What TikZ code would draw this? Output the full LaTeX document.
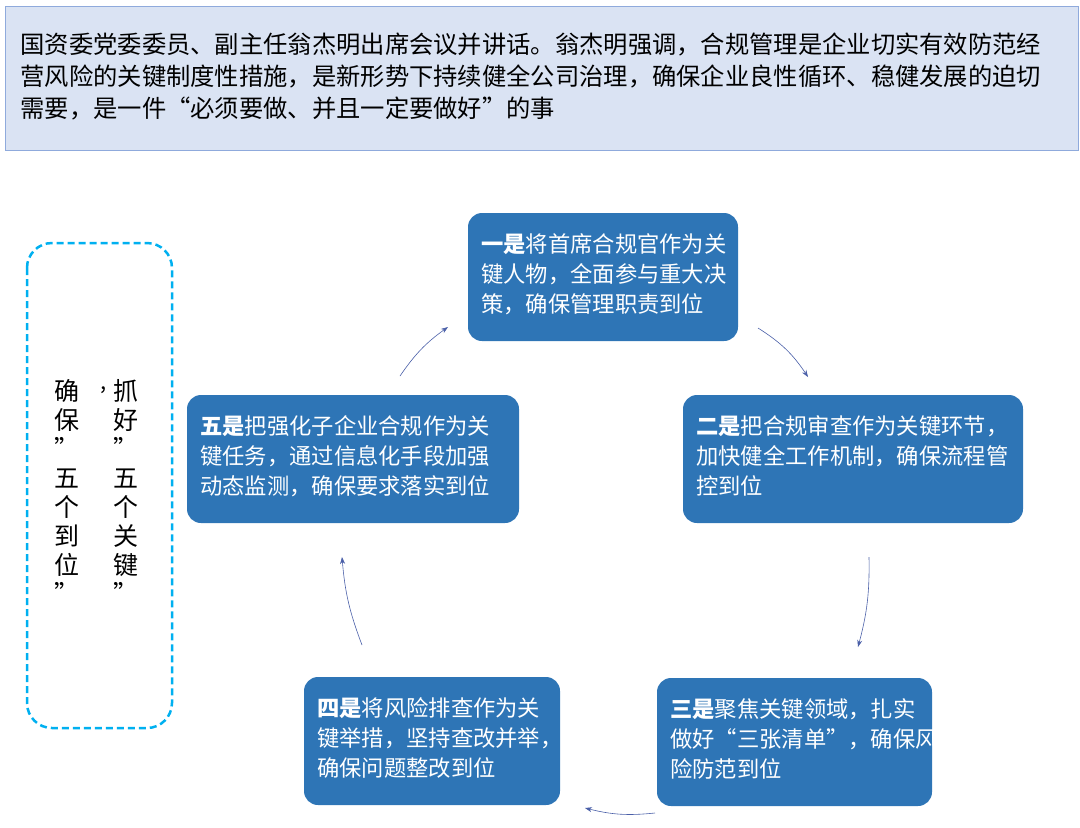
\documentclass[tikz,border=0pt]{standalone}
\usepackage{fontspec}
\setmainfont{Noto Sans CJK SC}
\usetikzlibrary{positioning,arrows.meta}
\definecolor{boxblue}{HTML}{2E75B6}
\definecolor{headfill}{HTML}{DAE3F3}
\definecolor{headline}{HTML}{8FAADC}
\definecolor{dashblue}{HTML}{00B0F0}
\definecolor{arrowblue}{HTML}{4A5FA8}
\tikzset{
  stepbox/.style={text=white, font=\fontsize{22.3}{30}\selectfont, align=left,
    inner sep=0pt, anchor=north west},
  flow/.style={-{Stealth[length=7pt,width=5pt]}, arrowblue, line width=.6pt}
}
\begin{document}
\begin{tikzpicture}[x=1pt,y=1pt]
  \useasboundingbox (0,0) rectangle (1080,-828);
  % header
  \draw[draw=headline, fill=headfill, line width=1pt] (5,-6) rectangle (1078,-150);
  \node[anchor=north west, align=left, font=\fontsize{24.3}{32}\selectfont] (head) at (17,-29)
    {国资委党委委员、副主任翁杰明出席会议并讲话。翁杰明强调，合规管理是企业切实有效防范经\\
     营风险的关键制度性措施，是新形势下持续健全公司治理，确保企业良性循环、稳健发展的迫切\\
     需要，是一件“必须要做、并且一定要做好”的事};
  % left dashed box
  \draw[dashblue, line width=2.5pt, dash pattern=on 7pt off 4pt, rounded corners=25pt]
    (27,-243) rectangle (172,-728);
  \node[anchor=north, align=center, font=\fontsize{25}{29}\selectfont] (colr) at (126,-376)
    {抓\\好\\”\\五\\个\\关\\键\\”};
  \node[anchor=north, align=center, font=\fontsize{25}{29}\selectfont] (coll) at (67,-376)
    {确\\保\\”\\五\\个\\到\\位\\”};
  \node[font=\fontsize{22}{28}\selectfont] (comma) at (104,-390) {,};
  % steps
  \fill[boxblue, rounded corners=14pt] (468,-213) rectangle (738,-341);
  \fill[boxblue, rounded corners=14pt] (683,-395) rectangle (1023,-523);
  \fill[boxblue, rounded corners=14pt] (657,-678) rectangle (932,-806);
  \fill[boxblue, rounded corners=14pt] (304,-677) rectangle (560,-805);
  \fill[boxblue, rounded corners=14pt] (187,-395) rectangle (519,-523);
  \node[stepbox] (s1) at (481,-233) {\textbf{一是}将首席合规官作为关\\键人物，全面参与重大决\\策，确保管理职责到位};
  \node[stepbox] (s2) at (696,-415) {\textbf{二是}把合规审查作为关键环节，\\加快健全工作机制，确保流程管\\控到位};
  \node[stepbox] (s3) at (670,-698) {\textbf{三是}聚焦关键领域，扎实\\做好“三张清单”，确保风\\险防范到位};
  \node[stepbox] (s4) at (317,-697) {\textbf{四是}将风险排查作为关\\键举措，坚持查改并举，\\确保问题整改到位};
  \node[stepbox] (s5) at (200,-415) {\textbf{五是}把强化子企业合规作为关\\键任务，通过信息化手段加强\\动态监测，确保要求落实到位};
  % arrows
  \coordinate (a1) at (758,-328); \coordinate (a2) at (808,-377);
  \coordinate (b1) at (869,-557); \coordinate (b2) at (858,-647);
  \coordinate (c1) at (655,-813); \coordinate (c2) at (585,-808);
  \coordinate (d1) at (362,-645); \coordinate (d2) at (342,-557);
  \coordinate (e1) at (400,-376); \coordinate (e2) at (448,-327);
  \draw[flow] (a1) to[bend left=12] (a2);
  \draw[flow] (b1) to[bend left=8] (b2);
  \draw[flow] (c1) to[bend left=10] (c2);
  \draw[flow] (d1) to[bend left=8] (d2);
  \draw[flow] (e1) to[bend left=10] (e2);
\end{tikzpicture}
\end{document}
